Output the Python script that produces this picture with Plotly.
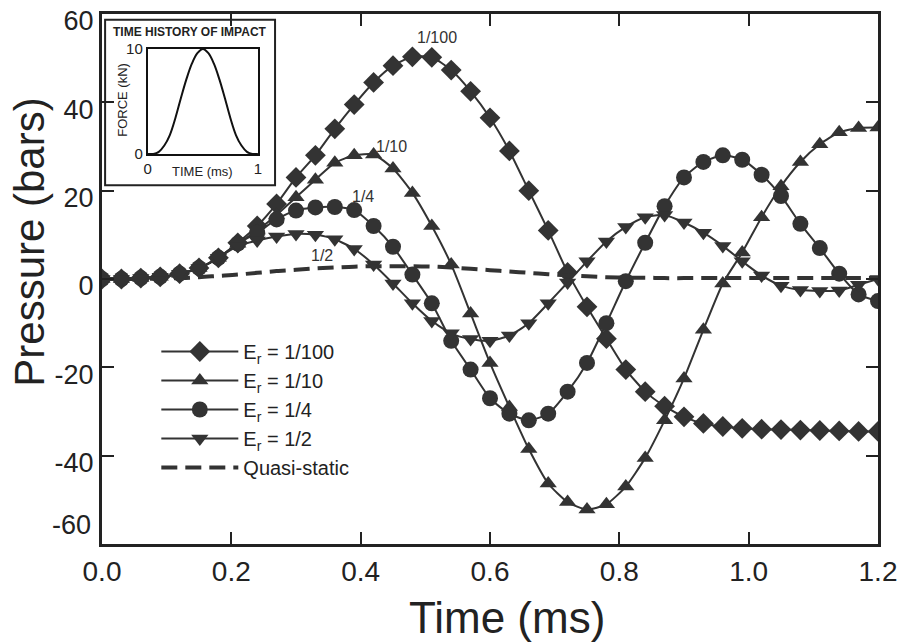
import plotly.graph_objects as go

# ---------------------------------------------------------------------------
# data (time in ms, pressure in bars)
time_ms = [0.00, 0.03, 0.06, 0.09, 0.12, 0.15, 0.18, 0.21, 0.24, 0.27,
           0.30, 0.33, 0.36, 0.39, 0.42, 0.45, 0.48, 0.51, 0.54, 0.57,
           0.60, 0.63, 0.66, 0.69, 0.72, 0.75, 0.78, 0.81, 0.84, 0.87,
           0.90, 0.93, 0.96, 0.99, 1.02, 1.05, 1.08, 1.11, 1.14, 1.17, 1.20]

p_er_100 = [0.0, 0.0, 0.2, 0.5, 1.2, 2.5, 4.8, 8.2, 12.0, 17.0,
            23.0, 28.0, 34.0, 39.5, 44.5, 48.3, 50.3, 50.2, 47.3, 42.5,
            36.5, 29.0, 20.0, 11.0, 1.5, -6.3, -13.5, -20.5, -25.5, -28.8,
            -31.2, -32.7, -33.4, -33.8, -34.0, -34.1, -34.2, -34.3, -34.4, -34.5, -34.5]

p_er_10 = [0.0, 0.0, 0.2, 0.5, 1.2, 2.5, 4.8, 8.0, 11.0, 14.5,
           18.5, 22.5, 26.3, 28.0, 28.2, 25.0, 19.5, 12.0, 3.3, -7.8,
           -19.0, -29.0, -38.5, -46.3, -50.5, -52.2, -51.0, -47.0, -40.5, -32.0,
           -22.5, -11.5, -1.0, 6.0, 14.0, 21.0, 26.5, 30.5, 33.2, 34.2, 34.3]

p_er_4 = [0.0, 0.0, 0.2, 0.5, 1.2, 2.5, 4.8, 8.0, 10.5, 13.5,
          15.5, 16.2, 16.3, 15.6, 12.0, 7.3, 1.0, -5.5, -14.0, -20.5,
          -27.0, -30.5, -32.0, -30.5, -25.5, -19.0, -10.0, -0.5, 8.2, 16.5,
          23.0, 26.5, 28.0, 27.0, 23.6, 18.8, 12.5, 7.0, 1.2, -3.5, -5.0]

p_er_2 = [0.0, 0.0, 0.2, 0.5, 1.2, 2.5, 4.8, 7.5, 8.7, 9.6,
          10.2, 10.0, 9.0, 6.8, 3.3, -1.0, -5.5, -9.5, -12.3, -13.6,
          -14.0, -12.8, -10.0, -5.5, -0.8, 4.0, 8.5, 11.8, 14.0, 14.5,
          12.8, 10.5, 7.5, 4.0, 0.8, -1.5, -2.5, -2.7, -2.6, -1.3, 0.0]

p_quasi = [0.0, 0.0, 0.0, 0.1, 0.2, 0.4, 0.7, 1.0, 1.4, 1.8,
           2.1, 2.4, 2.6, 2.8, 2.9, 2.9, 2.9, 2.8, 2.6, 2.3,
           2.0, 1.7, 1.4, 1.1, 0.8, 0.6, 0.4, 0.3, 0.3, 0.2,
           0.2, 0.2, 0.2, 0.2, 0.2, 0.2, 0.2, 0.2, 0.2, 0.2, 0.2]

x_ticks = [0, 0.2, 0.4, 0.6, 0.8, 1.0, 1.2]
x_ticktext = ["0.0", "0.2", "0.4", "0.6", "0.8", "1.0", "1.2"]
y_ticks = [-60, -40, -20, 0, 20, 40, 60]
# the bottom label sits a little higher in the reference, drawn separately
y_ticktext = ["", "-40", "-20", "0", "20", "40", "60"]

# inset: time history of impact
pulse_t = [0.0, 0.05, 0.10, 0.15, 0.20, 0.25, 0.30, 0.35, 0.40, 0.45, 0.50,
           0.55, 0.60, 0.65, 0.70, 0.75, 0.80, 0.85, 0.90, 0.95, 1.0]
pulse_f = [0.0, 0.0, 0.2, 0.8, 1.8, 3.4, 5.3, 7.1, 8.6, 9.6, 10.0,
           9.6, 8.6, 7.1, 5.3, 3.4, 1.8, 0.8, 0.2, 0.0, 0.0]

# curve labels next to each peak
peak_labels = ["1/100", "1/10", "1/4", "1/2"]
peak_x = [0.518, 0.448, 0.403, 0.340]
peak_y = [54.6, 30.1, 18.6, 5.4]

DARK = "#333333"
FONT = "Liberation Sans, Arial, sans-serif"

fig = go.Figure()

for name, ys, sym, size in [
    ("E<sub>r</sub> = 1/100", p_er_100, "diamond", 16),
    ("E<sub>r</sub> = 1/10", p_er_10, "triangle-up", 15),
    ("E<sub>r</sub> = 1/4", p_er_4, "circle", 16),
    ("E<sub>r</sub> = 1/2", p_er_2, "triangle-down", 15),
]:
    fig.add_trace(go.Scatter(
        x=time_ms, y=ys, mode="lines+markers", name=name,
        line=dict(color=DARK, width=2, shape="spline", smoothing=0.6),
        marker=dict(symbol=sym, size=size, color=DARK),
    ))

fig.add_trace(go.Scatter(
    x=time_ms, y=p_quasi, mode="lines", name="Quasi-static",
    line=dict(color=DARK, width=4, dash="16px,8px", shape="spline"),
))

for txt, x, y in zip(peak_labels, peak_x, peak_y):
    fig.add_annotation(x=x, y=y, text=txt, showarrow=False,
                       font=dict(size=16, color=DARK, family=FONT))

# axis titles as annotations (the reference has them off-centre)
fig.add_annotation(xref="paper", yref="paper", x=-0.093, y=0.57,
                   text="Pressure (bars)", textangle=-90, showarrow=False,
                   xanchor="center", yanchor="middle",
                   font=dict(size=42, color="#222"))
fig.add_annotation(xref="paper", yref="paper", x=0.522, y=-0.138,
                   text="Time (ms)", showarrow=False,
                   xanchor="center", yanchor="middle",
                   font=dict(size=44, color="#222"))
fig.add_annotation(xref="paper", yref="paper", x=-0.012, y=0.036,
                   text="-60", showarrow=False,
                   xanchor="right", yanchor="middle",
                   font=dict(size=27, color="#222"))

# inset
fig.add_trace(go.Scatter(
    x=pulse_t, y=pulse_f, mode="lines", xaxis="x2", yaxis="y2",
    line=dict(color="#111", width=2, shape="spline"), showlegend=False,
))
fig.add_shape(type="rect", xref="paper", yref="paper",
              x0=0.004, x1=0.223, y0=0.677, y1=0.989,
              line=dict(color="#222", width=2), fillcolor="white", layer="below")
fig.add_annotation(xref="paper", yref="paper", x=0.113, y=0.966,
                   text="<b>TIME HISTORY OF IMPACT</b>", showarrow=False,
                   xanchor="center", yanchor="middle",
                   font=dict(size=12, color="#222"))
fig.add_annotation(xref="paper", yref="paper", x=0.129, y=0.702,
                   text="TIME (ms)", showarrow=False,
                   xanchor="center", yanchor="middle",
                   font=dict(size=13, color="#222"))
fig.add_annotation(xref="paper", yref="paper", x=0.027, y=0.838,
                   text="FORCE (kN)", textangle=-90, showarrow=False,
                   xanchor="center", yanchor="middle",
                   font=dict(size=13, color="#222"))

fig.update_layout(
    width=906, height=644,
    margin=dict(l=102, r=28, t=14, b=100),
    plot_bgcolor="white", paper_bgcolor="white",
    font=dict(family=FONT, color="#222"),
    xaxis=dict(
        range=[0, 1.2], tickvals=x_ticks, ticktext=x_ticktext,
        ticks="inside", ticklen=12, tickwidth=2, tickcolor="#222",
        showline=True, linewidth=3, linecolor="#222", mirror="ticks",
        showgrid=False, zeroline=False, automargin=False,
        ticklabeloverflow="allow",
        tickfont=dict(size=28),
    ),
    yaxis=dict(
        range=[-60, 60], tickvals=y_ticks, ticktext=y_ticktext,
        ticks="inside", ticklen=12, tickwidth=2, tickcolor="#222",
        showline=True, linewidth=3, linecolor="#222", mirror="ticks",
        showgrid=False, zeroline=False, automargin=False,
        ticklabeloverflow="allow", ticklabelshift=7,
        tickfont=dict(size=27),
    ),
    xaxis2=dict(
        domain=[0.059, 0.201], anchor="y2", range=[0, 1],
        tickvals=[0, 1], ticks="", showline=True, linewidth=2, linecolor="#111",
        mirror=True, showgrid=False, zeroline=False, automargin=False,
        tickfont=dict(size=15),
    ),
    yaxis2=dict(
        domain=[0.736, 0.934], anchor="x2", range=[0, 10],
        tickvals=[0, 10], ticks="", showline=True, linewidth=2, linecolor="#111",
        mirror=True, showgrid=False, zeroline=False, automargin=False,
        tickfont=dict(size=15),
    ),
    legend=dict(
        x=0.07, y=0.40, xanchor="left", yanchor="top",
        bgcolor="rgba(255,255,255,0)", font=dict(size=20, color="#222"),
        tracegroupgap=0, itemwidth=77,
    ),
)

fig.write_html("out.html", config={"displayModeBar": False},
               post_script="document.body.style.margin='0';")
